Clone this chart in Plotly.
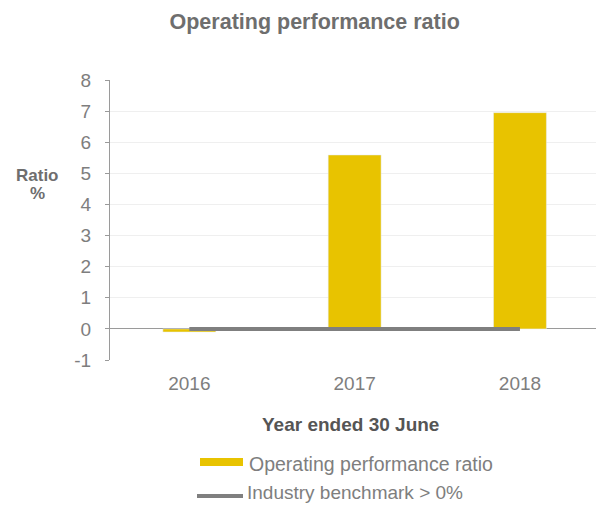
import plotly.graph_objects as go

years = ["2016", "2017", "2018"]
ratio = [-0.1, 5.59, 6.95]
benchmark = [0, 0, 0]
y_ticks = [-1, 0, 1, 2, 3, 4, 5, 6, 7, 8]
series_names = ["Operating performance ratio", "Industry benchmark > 0%"]

BAR = "#E8C300"
LINE = "#7F7F7F"
TXT = "#7E7E7E"
FONT = "Liberation Sans, Arial, sans-serif"

fig = go.Figure()
fig.add_trace(go.Bar(x=years, y=ratio, marker_color=BAR, width=0.32,
                     name=series_names[0], showlegend=False))
fig.add_trace(go.Scatter(x=years, y=benchmark, mode="lines",
                         line=dict(color=LINE, width=4),
                         name=series_names[1], showlegend=False))

# key below the chart, in paper coordinates (plot spans 80..360 px vertically)
def py(px):
    return (360 - px) / 280

def pxx(px):
    return (px - 110) / 486

shapes = [
    dict(type="rect", xref="paper", yref="paper", x0=pxx(200), x1=pxx(243),
         y0=py(466), y1=py(458), fillcolor=BAR, line=dict(width=0)),
    dict(type="line", xref="paper", yref="paper", x0=pxx(197), x1=pxx(243),
         y0=py(496), y1=py(496), line=dict(color=LINE, width=4)),
]

fig.update_layout(
    width=596, height=506,
    margin=dict(l=110, r=0, t=80, b=146),
    paper_bgcolor="white", plot_bgcolor="white",
    font=dict(family=FONT, color=TXT, size=19),
    showlegend=False,
    title=dict(text="<b>Operating performance ratio</b>", x=0.528, xanchor="center",
               y=0.958, yanchor="middle", font=dict(size=21.5, color="#6E6E6E")),
    xaxis=dict(type="category", range=[-0.48, 2.46], showgrid=False,
               ticks="", ticklabelstandoff=10,
               tickfont=dict(size=19, color=TXT), showline=False),
    yaxis=dict(range=[-1, 8], tickvals=y_ticks, ticktext=[str(v) for v in y_ticks],
               showgrid=True, gridcolor="#EFEFEF",
               gridwidth=1, zeroline=True, zerolinecolor="#9A9A9A", zerolinewidth=1,
               showline=True, linecolor="#9A9A9A", linewidth=1,
               ticks="outside", ticklen=4, tickcolor="#9A9A9A",
               ticklabelstandoff=10,
               tickfont=dict(size=19, color=TXT)),
    shapes=shapes,
    annotations=[
        dict(text="<b>Ratio</b>", xref="paper", yref="paper", x=pxx(37), y=py(175),
             xanchor="center", yanchor="middle", showarrow=False,
             font=dict(size=17, color="#6E6E6E")),
        dict(text="<b>%</b>", xref="paper", yref="paper", x=pxx(37), y=py(193),
             xanchor="center", yanchor="middle", showarrow=False,
             font=dict(size=17, color="#6E6E6E")),
        dict(text="<b>Year ended 30 June</b>", xref="paper", yref="paper", x=pxx(350),
             y=py(424), xanchor="center", yanchor="middle", showarrow=False,
             font=dict(size=19, color="#555555")),
        dict(text=series_names[0], xref="paper", yref="paper", x=pxx(247), y=py(464),
             xanchor="left", yanchor="middle", showarrow=False,
             font=dict(size=19.5, color=TXT)),
        dict(text=series_names[1], xref="paper", yref="paper", x=pxx(245), y=py(492),
             xanchor="left", yanchor="middle", showarrow=False,
             font=dict(size=19, color=TXT)),
    ],
)

fig.write_html("out.html")
